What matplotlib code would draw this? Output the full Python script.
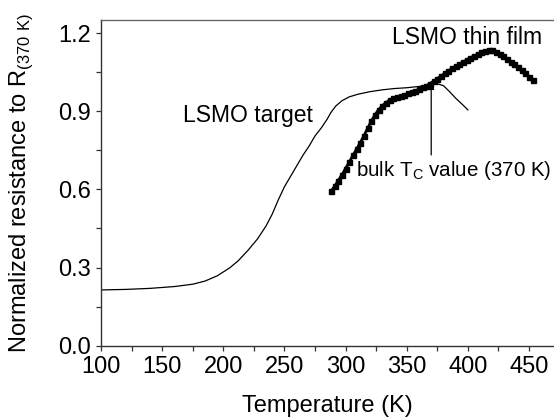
import matplotlib
matplotlib.use('Agg')
import matplotlib.pyplot as plt
from matplotlib.ticker import MultipleLocator

plt.rcParams['font.family'] = 'Liberation Sans'
plt.rcParams['mathtext.fontset'] = 'custom'
plt.rcParams['mathtext.rm'] = 'Liberation Sans'

# LSMO target (thin line)
T_target = [100, 120, 140, 160, 175, 185, 195, 205, 212, 220, 228, 235, 240,
            245, 250, 255, 260, 265, 270, 275, 280, 285, 288, 292, 297, 303,
            310, 320, 330, 340, 350, 360, 368, 375, 380, 385, 390, 395, 400]
R_target = [0.214, 0.216, 0.220, 0.227, 0.236, 0.248, 0.268, 0.298, 0.325,
            0.365, 0.410, 0.460, 0.505, 0.560, 0.610, 0.650, 0.690, 0.730,
            0.765, 0.805, 0.835, 0.870, 0.895, 0.920, 0.940, 0.955, 0.965,
            0.975, 0.982, 0.987, 0.990, 0.995, 1.000, 1.005, 0.998, 0.975,
            0.950, 0.928, 0.905]

# LSMO thin film (squares)
T_film = [288, 291, 294, 297, 300, 303, 306, 309, 312, 315, 318, 321, 324,
          327, 330, 333, 336, 339, 342, 345, 348, 351, 354, 357, 360, 363,
          366, 369, 372, 375, 378, 381, 384, 387, 390, 393, 396, 399, 402,
          405, 408, 411, 414, 417, 420, 423, 426, 429, 432, 435, 438, 441,
          444, 447, 450, 453]
R_film = [0.592, 0.612, 0.634, 0.656, 0.680, 0.705, 0.730, 0.755, 0.779,
          0.806, 0.834, 0.862, 0.886, 0.906, 0.921, 0.933, 0.943, 0.950,
          0.955, 0.959, 0.963, 0.968, 0.973, 0.978, 0.984, 0.991, 0.998,
          1.006, 1.015, 1.025, 1.035, 1.045, 1.055, 1.064, 1.073, 1.081,
          1.089, 1.097, 1.105, 1.112, 1.119, 1.126, 1.132, 1.135, 1.133,
          1.127, 1.119, 1.110, 1.100, 1.090, 1.080, 1.069, 1.058, 1.045,
          1.033, 1.020]

fig = plt.figure(figsize=(5.54, 4.18), dpi=100)
ax = fig.add_axes([101/554, 72.3/418, 453/554, 325.7/418])

ax.plot(T_target, R_target, color='k', lw=0.9)
ax.plot(T_film, R_film, color='k', lw=2.0, marker='s', ms=3.6)

ax.set_xlim(100, 470.4)
ax.set_ylim(0, 1.25)
ax.xaxis.set_major_locator(MultipleLocator(50))
ax.xaxis.set_minor_locator(MultipleLocator(25))
ax.yaxis.set_major_locator(MultipleLocator(0.3))
ax.yaxis.set_minor_locator(MultipleLocator(0.15))
ax.yaxis.set_major_formatter(plt.FuncFormatter(lambda v, p: '%.1f' % v))

ax.tick_params(which='both', direction='out', length=3.5, width=0.9,
               labelsize=17, pad=4, color='#333333')
ax.spines['right'].set_visible(False)
for s in ['left', 'bottom', 'top']:
    ax.spines[s].set_linewidth(1.0)
    ax.spines[s].set_color('#333333')
ax.spines['top'].set_color('#666666')

ax.set_xlabel('Temperature (K)', fontsize=17, labelpad=12)
ax.set_ylabel(r'Normalized resistance to R$_{\mathregular{(370\ K)}}$',
              fontsize=17, labelpad=16)

ax.text(220, 0.885, 'LSMO target', fontsize=16.5, ha='center', va='center')
ax.text(399, 1.181, 'LSMO thin film', fontsize=16.5, ha='center', va='center')
ax.annotate('', xy=(370, 1.008), xytext=(370, 0.732),
            arrowprops=dict(arrowstyle='-|>', color='k', lw=0.9,
                            mutation_scale=9, shrinkA=0, shrinkB=0))
ax.text(308.5, 0.674, r'bulk T$_{\mathregular{C}}$ value (370 K)',
        fontsize=14.8, ha='left', va='center')

fig.savefig('out.png', dpi=100)
